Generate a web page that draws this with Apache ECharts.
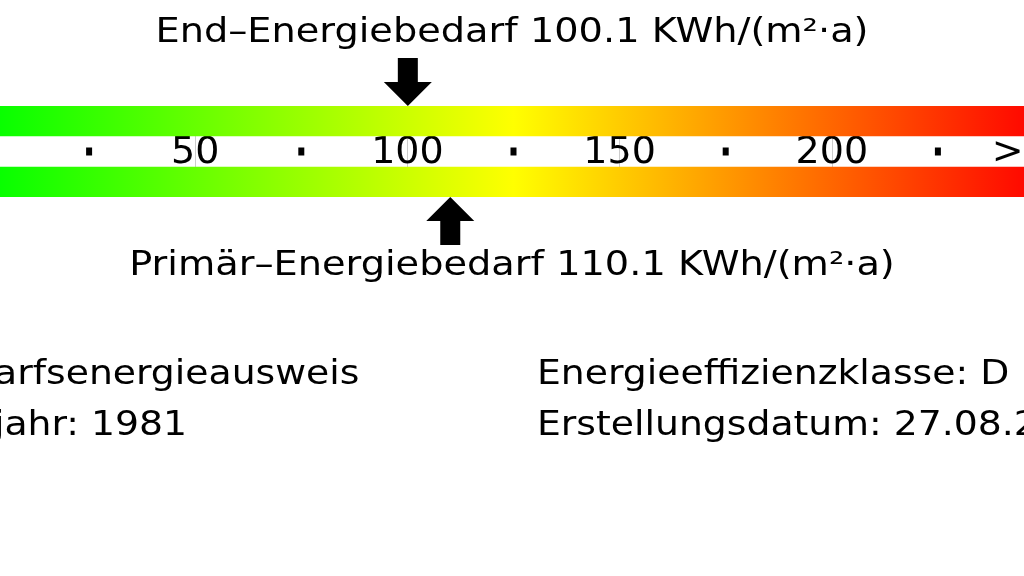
<!DOCTYPE html>
<html>
<head>
<meta charset="utf-8">
<script src="https://cdn.jsdelivr.net/npm/echarts@6/dist/echarts.min.js"></script>
<style>
  html, body { margin: 0; padding: 0; background: #fff; }
  #chart { width: 1024px; height: 576px; }
</style>
</head>
<body>
<div id="chart"></div>
<script>
// scale data
const endEnergy = 100.1;
const primaryEnergy = 110.1;
const scaleRange = [0, 250];
const majorTicks = [50, 100, 150, 200, 250];
const minorTicks = [25, 75, 125, 175, 225];
const scaleColors = ['#00ff00', '#ffff00', '#ff0000'];
const infoLeft = ['Bedarfsenergieausweis', 'Baujahr: 1981'];
const infoRight = ['Energieeffizienzklasse: D', 'Erstellungsdatum: 27.08.2014'];

const FONT = '"DejaVu Sans", sans-serif';

const downArrow = 'path://M14,0 L34,0 L34,24 L48,24 L24,48 L0,24 L14,24 Z';
const upArrow = 'path://M24,0 L48,24 L34,24 L34,48 L14,48 L14,24 L0,24 Z';

const chart = echarts.init(document.getElementById('chart'));

function textEl(content, x, y, size, align, stretch) {
    return {
        type: 'text', x: x, y: y, scaleX: stretch, silent: true,
        style: {
            text: content, fontSize: size, fontFamily: FONT, fill: '#000',
            align: align, textAlign: align, verticalAlign: 'middle', textVerticalAlign: 'middle'
        }
    };
}

const option = {
    backgroundColor: '#fff',
    animation: false,
    grid: { left: -17, right: -20, top: 106, bottom: 379, outerBoundsMode: 'none', containLabel: false },
    xAxis: {
        type: 'value',
        min: scaleRange[0],
        max: scaleRange[1],
        interval: 50,
        axisLine: { show: false },
        axisTick: { show: false },
        splitLine: { show: true, lineStyle: { color: '#cccccc', width: 1 } },
        axisLabel: {
            inside: true,
            margin: 44,
            verticalAlign: 'middle',
            fontSize: 38,
            fontFamily: FONT,
            color: '#000',
            showMinLabel: true,
            showMaxLabel: true,
            hideOverlap: false,
            formatter: v => majorTicks.includes(v) ? (v === scaleRange[1] ? '>' + v : String(v)) : ''
        }
    },
    yAxis: { type: 'value', min: 0, max: 3, show: false },
    graphic: [
        textEl(`End–Energiebedarf ${endEnergy} KWh/(m²·a)`, 512, 33, 33, 'center', 1.16),
        textEl(`Primär–Energiebedarf ${primaryEnergy} KWh/(m²·a)`, 512, 266, 33, 'center', 1.16),
        textEl(infoLeft[0], -79, 375, 34, 'left', 1.11),
        textEl(infoLeft[1], -79, 426, 34, 'left', 1.11),
        textEl(infoRight[0], 537, 375, 34, 'left', 1.11),
        textEl(infoRight[1], 537, 426, 34, 'left', 1.11)
    ],
    series: [
        {
            type: 'custom',
            silent: true,
            clip: false,
            data: [[scaleRange[0], scaleRange[1], 2, 3], [scaleRange[0], scaleRange[1], 0, 1]],
            renderItem: function (params, api) {
                const p0 = api.coord([api.value(0), api.value(3)]);
                const p1 = api.coord([api.value(1), api.value(2)]);
                return {
                    type: 'rect',
                    shape: { x: p0[0], y: p0[1], width: p1[0] - p0[0], height: p1[1] - p0[1] },
                    style: {
                        fill: new echarts.graphic.LinearGradient(0, 0, 1, 0, [
                            { offset: 0, color: scaleColors[0] },
                            { offset: 0.5, color: scaleColors[1] },
                            { offset: 1, color: scaleColors[2] }
                        ])
                    }
                };
            }
        },
        {
            type: 'scatter',
            silent: true,
            symbol: 'rect',
            symbolSize: [6, 8],
            itemStyle: { color: '#000', opacity: 1 },
            data: minorTicks.map(v => [v, 1.5])
        },
        {
            type: 'scatter',
            silent: true,
            clip: false,
            symbol: downArrow,
            symbolSize: [48, 48],
            symbolOffset: [0, -24],
            itemStyle: { color: '#000', opacity: 1 },
            data: [[endEnergy, 3]]
        },
        {
            type: 'scatter',
            silent: true,
            clip: false,
            symbol: upArrow,
            symbolSize: [48, 48],
            symbolOffset: [0, 24],
            itemStyle: { color: '#000', opacity: 1 },
            data: [[primaryEnergy, 0]]
        }
    ]
};
chart.setOption(option);
</script>
</body>
</html>
